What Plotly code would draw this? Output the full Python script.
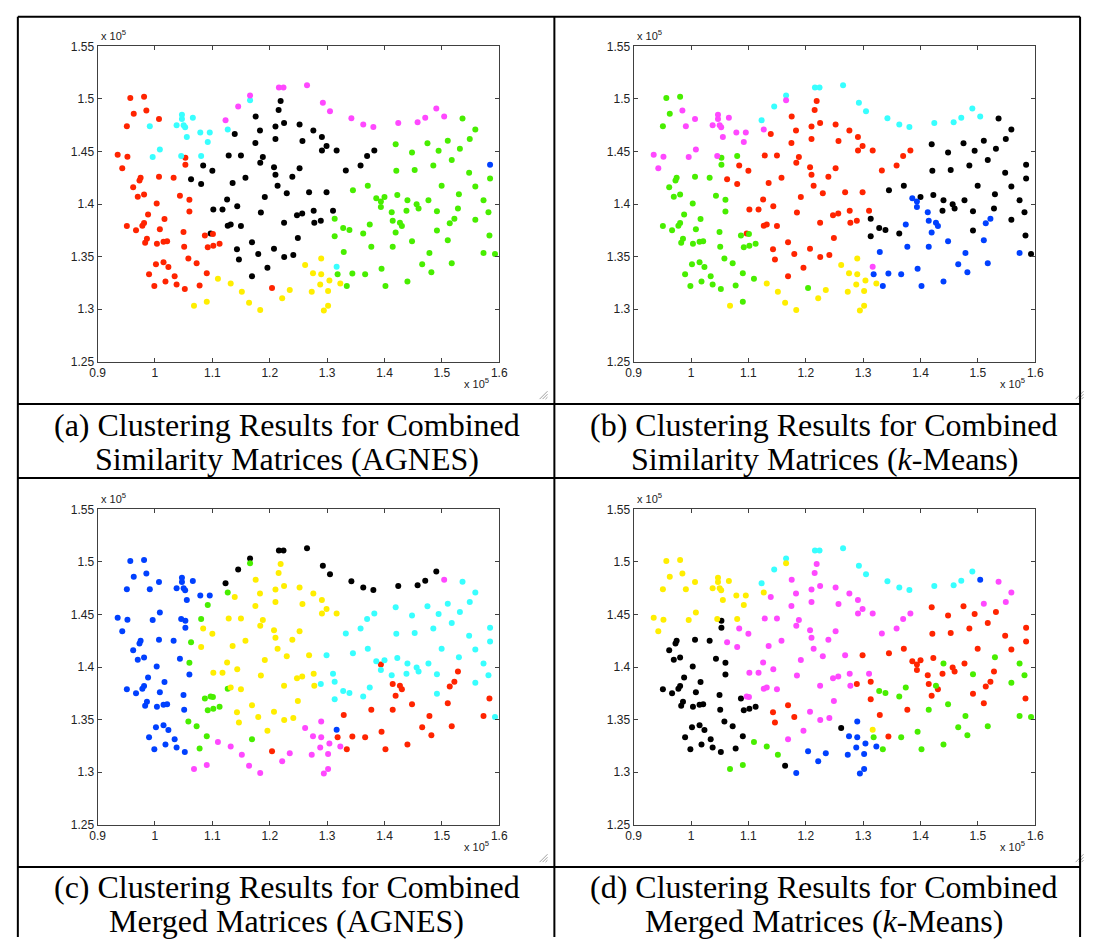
import plotly.graph_objects as go

W, H = 1094, 944

# ---- data: point coordinates (shared by all four panels) ----
x_vals = [0.957, 0.981, 0.985, 0.963, 1.007, 0.951, 0.935, 0.952, 0.943, 1.053,
          1.053, 0.975, 0.973, 1.007, 1.0325, 0.962, 0.970, 0.981, 1.0435, 1.060,
          1.003, 1.060, 0.988, 1.0166, 0.981, 0.978, 0.951, 0.967, 1.0085, 1.0497,
          0.986, 1.087, 1.101, 0.9829, 1.0034, 1.0149, 1.0212, 1.0509, 1.092, 1.1017,
          1.1126, 1.0582, 1.0726, 1.0017, 1.0149, 1.0234, 0.9897, 1.0183, 1.0343, 1.0903,
          0.9989, 1.0377, 1.052, 1.0778, 1.204, 1.047, 1.047, 1.066, 1.0377, 1.050,
          1.0526, 0.991, 1.0555, 1.079, 1.0955, 1.092, 1.1268, 1.1657, 1.0085, 0.996,
          1.0457, 1.0805, 1.3166, 1.216, 1.224, 1.265, 1.1657, 1.145, 1.123, 1.2926,
          1.305, 1.3423, 1.363, 1.3806, 1.424, 1.4577, 1.471, 1.4903, 1.504, 1.219,
          1.2155, 1.1755, 1.210, 1.225, 1.252, 1.276, 1.183, 1.139, 1.175, 1.210,
          1.257, 1.291, 1.1285, 1.1498, 1.188, 1.1835, 1.2075, 1.252, 1.084, 1.100,
          1.210, 1.2394, 1.0629, 1.1577, 1.0805, 1.1353, 1.2137, 1.2297, 1.2686, 1.1914,
          1.1257, 1.1434, 1.1017, 1.1177, 1.1846, 1.2475, 1.2566, 1.2766, 1.289, 1.2777,
          1.225, 1.249, 1.1268, 1.132, 1.1498, 1.097, 1.2909, 1.299, 1.3166, 1.3823,
          1.3697, 1.3583, 1.3326, 1.299, 1.3103, 1.1429, 1.1463, 1.1691, 1.18, 1.2074,
          1.2252, 1.2411, 1.196, 1.1691, 1.536, 1.5583, 1.5486, 1.5103, 1.4749, 1.4195,
          1.5314, 1.4943, 1.448, 1.5172, 1.4206, 1.4526, 1.4851, 1.5475, 1.584, 1.584,
          1.345, 1.3709, 1.4223, 1.4996, 1.5583, 1.3857, 1.400, 1.3937, 1.3937, 1.440,
          1.4766, 1.5297, 1.5726, 1.456, 1.4594, 1.4126, 1.4383, 1.4914, 1.528, 1.5812,
          1.3132, 1.4143, 1.4269, 1.4303, 1.5218, 1.5137, 1.5583, 1.328, 1.3389, 1.3743,
          1.3629, 1.4194, 1.4914, 1.5829, 1.3132, 1.5103, 1.448, 1.377, 1.4143, 1.329,
          1.4783, 1.5726, 1.5926, 1.4657, 1.5172, 1.3949, 1.3183, 1.344, 1.3663, 1.4817,
          1.3343, 1.4017, 1.440, 1.1097, 1.132, 1.1514, 1.068, 1.0903, 1.164, 1.1834,
          1.2217, 1.2349, 1.2617, 1.2754, 1.2732, 1.2897, 1.2897, 1.304, 1.323, 1.288,
          1.3017, 1.3017, 1.2943]

y_vals = [1.501, 1.502, 1.489, 1.486, 1.481, 1.474, 1.447, 1.445, 1.434, 1.444,
          1.4375, 1.425, 1.4225, 1.426, 1.425, 1.416, 1.407, 1.409, 1.408, 1.404,
          1.4006, 1.393, 1.390, 1.3857, 1.382, 1.3794, 1.379, 1.375, 1.376, 1.3735,
          1.367, 1.370, 1.3716, 1.3632, 1.3622, 1.3641, 1.3647, 1.3594, 1.3588, 1.3603,
          1.3622, 1.3482, 1.3437, 1.3428, 1.3447, 1.340, 1.3331, 1.3262, 1.3313, 1.3341,
          1.3219, 1.3234, 1.3191, 1.3225, 1.320, 1.485, 1.481, 1.482, 1.475, 1.475,
          1.473, 1.474, 1.4638, 1.468, 1.468, 1.459, 1.471, 1.4987, 1.452, 1.4447,
          1.4457, 1.4457, 1.3403, 1.511, 1.511, 1.513, 1.5034, 1.4928, 1.4797, 1.4963,
          1.4884, 1.4816, 1.4757, 1.4734, 1.4772, 1.4778, 1.4822, 1.491, 1.4832, 1.498,
          1.4894, 1.4832, 1.4738, 1.4772, 1.4757, 1.470, 1.470, 1.4666, 1.458, 1.462,
          1.460, 1.451, 1.4462, 1.4462, 1.4447, 1.4394, 1.435, 1.434, 1.4366, 1.4316,
          1.4278, 1.426, 1.4237, 1.425, 1.419, 1.420, 1.4175, 1.4103, 1.4112, 1.4068,
          1.4044, 1.398, 1.3947, 1.3947, 1.3919, 1.3894, 1.391, 1.3937, 1.384, 1.3822,
          1.3822, 1.3677, 1.3794, 1.3806, 1.379, 1.372, 1.4638, 1.4553, 1.451, 1.451,
          1.4457, 1.4366, 1.4319, 1.4112, 1.3937, 1.3569, 1.3472, 1.3637, 1.3525, 1.3575,
          1.3497, 1.3516, 1.3394, 1.3313, 1.4813, 1.471, 1.462, 1.4603, 1.4578, 1.4569,
          1.4525, 1.4506, 1.449, 1.4419, 1.4316, 1.4325, 1.4366, 1.4297, 1.4244, 1.4375,
          1.4131, 1.4175, 1.4087, 1.4175, 1.4166, 1.4056, 1.4066, 1.4025, 1.3972, 1.4035,
          1.4035, 1.4094, 1.4035, 1.3997, 1.3957, 1.3922, 1.3937, 1.3931, 1.3957, 1.3922,
          1.386, 1.384, 1.3822, 1.379, 1.386, 1.3816, 1.385, 1.3772, 1.3753, 1.3806,
          1.3719, 1.3728, 1.3747, 1.370, 1.3694, 1.3656, 1.3647, 1.3594, 1.3594, 1.3544,
          1.3534, 1.3534, 1.3525, 1.3428, 1.3437, 1.3384, 1.3331, 1.334, 1.3331, 1.335,
          1.3219, 1.3219, 1.3263, 1.3288, 1.3244, 1.3166, 1.3031, 1.3069, 1.306, 1.2991,
          1.3103, 1.3181, 1.3419, 1.3341, 1.3166, 1.3482, 1.3331, 1.3272, 1.3244, 1.3234,
          1.3172, 1.3031, 1.2988]

# ---- cluster labels per panel (R red, G green, B blue, C cyan, M magenta, Y yellow, K black) ----
labels_a = ("R " * 55 + "C " * 18 + "M " * 16 + "K " * 65 + "G " * 15 + "B "
            + "G " * 53 + "Y " * 20).split()

labels_b = ("G G M G M G M M M " + "G " * 46 + "M " * 16 + "G M " + "C " * 16 + "R " * 65
            + "K " * 21 + "B K B B K K K K K K B K K K K K B B B B B K K K B K B K K K "
            + "B B B B B B B K B B B B B B B B B B "
            + "G Y Y Y G " + "Y " * 15).split()

labels_c = ("B " * 19 + "G " + "B " * 11 + "G G " + "B " * 5 + "G " * 5 + "B " * 6 + "G B B B G R "
            + "B " * 10 + "G G G B B B G B " + "K " * 15 + "M "
            + "Y " * 23 + "G " + "Y " * 15 + "C Y Y Y G Y Y G "
            + "Y Y Y C C C C C C " + "Y " * 8 + "G "
            + "C " * 23 + "R C " + "C " * 9 + "R C C R R R R R C C C C C R C R C "
            + "R R R R R R R C R R R R R R R R R R "
            + "M " * 20).split()

labels_d = ("Y " * 9 + "K " * 23 + "M " + "K " * 21 + "B " + "Y " * 18 + "C " * 15 + "B "
            + "M " * 39 + "R M M M M " + "M M M M M M M M M M R M R R R R " + "M " * 9
            + "R " * 21 + "G R G G R R R R G R G R R G R R R G G G G G R R R R R G R G R "
            + "G G G G G G G R G G G G G G G G G G "
            + "K B B B K " + "B " * 15).split()

x_tick_vals = [0.9, 1.0, 1.1, 1.2, 1.3, 1.4, 1.5, 1.6]
x_tick_text = ["0.9", "1", "1.1", "1.2", "1.3", "1.4", "1.5", "1.6"]
y_tick_vals = [1.25, 1.30, 1.35, 1.40, 1.45, 1.50, 1.55]
y_tick_text = ["1.25", "1.3", "1.35", "1.4", "1.45", "1.5", "1.55"]

captions = [
    ("(a) Clustering Results for Combined", "Similarity Matrices (AGNES)"),
    ("(b) Clustering Results for Combined", "Similarity Matrices (<i>k</i>-Means)"),
    ("(c) Clustering Results for Combined", "Merged Matrices (AGNES)"),
    ("(d) Clustering Results for Combined", "Merged Matrices (<i>k</i>-Means)"),
]

color_map = {"R": "#ff2400", "G": "#48ee00", "B": "#0040ff", "C": "#38ffff",
             "M": "#ff48ff", "Y": "#ffee00", "K": "#000000"}
color_order = ["K", "R", "G", "B", "C", "M", "Y"]

# ---- layout geometry (pixels) ----
panel_boxes = [(91, 40, 499, 360), (635.5, 40, 1043.5, 360),
               (91, 510, 499, 830), (635.5, 510, 1043.5, 830)]
caption_centers = [(283, 424, 459), (829, 424, 459), (283, 893, 928), (829, 893, 928)]


def px(xp):
    return xp / W


def py(yp):
    return 1 - yp / H


fig = go.Figure()
all_labels = [labels_a, labels_b, labels_c, labels_d]

for i, labels in enumerate(all_labels):
    sfx = "" if i == 0 else str(i + 1)
    for c in color_order:
        xs = [x for x, l in zip(x_vals, labels) if l == c]
        ys = [y for y, l in zip(y_vals, labels) if l == c]
        if not xs:
            continue
        fig.add_trace(go.Scatter(x=xs, y=ys, mode="markers", xaxis="x" + sfx, yaxis="y" + sfx,
                                 marker=dict(color=color_map[c], size=6, line=dict(width=0)),
                                 showlegend=False, hoverinfo="skip"))

layout = dict(width=W, height=H, margin=dict(l=0, r=0, t=0, b=0),
              paper_bgcolor="white", plot_bgcolor="white", showlegend=False)
axis_common = dict(showline=True, linecolor="#404040", linewidth=1, mirror="ticks",
                   ticks="inside", ticklen=4, tickcolor="#404040", showgrid=False,
                   zeroline=False, tickfont=dict(family="Liberation Sans", size=12, color="#222"))
shapes = []
annotations = []
for i, (l, t, r, b) in enumerate(panel_boxes):
    sfx = "" if i == 0 else str(i + 1)
    layout["xaxis" + sfx] = dict(axis_common, domain=[px(l), px(r)], range=[0.9, 1.6],
                                 tickvals=x_tick_vals, ticktext=x_tick_text, anchor="y" + sfx)
    layout["yaxis" + sfx] = dict(axis_common, domain=[py(b), py(t)], range=[1.25, 1.55],
                                 tickvals=y_tick_vals, ticktext=y_tick_text, anchor="x" + sfx)
    annotations.append(dict(x=px(l + 1), y=py(t - 2), xref="paper", yref="paper",
                            text="x 10<sup>5</sup>", showarrow=False, xanchor="left",
                            yanchor="bottom", font=dict(family="Liberation Sans", size=11, color="#222")))
    annotations.append(dict(x=px(r - 8), y=py(b + 22), xref="paper", yref="paper",
                            text="x 10<sup>5</sup>", showarrow=False, xanchor="right",
                            yanchor="middle", font=dict(family="Liberation Sans", size=11, color="#222")))
    # resize grip
    gx, gy = r + 49, b + 38
    for k in range(3):
        d = 3 * k
        shapes.append(dict(type="line", xref="paper", yref="paper",
                           x0=px(gx - 8 + d), y0=py(gy), x1=px(gx), y1=py(gy - 8 + d),
                           line=dict(color="#a0a0a0", width=1)))

for (cx, y1, y2), (line1, line2) in zip(caption_centers, captions):
    for yy, txt in ((y1, line1), (y2, line2)):
        annotations.append(dict(x=px(cx), y=py(yy), xref="paper", yref="paper", text=txt,
                                showarrow=False, xanchor="center", yanchor="middle",
                                font=dict(family="Liberation Serif", size=32, color="black")))

# table frame lines
for xl in (10, 555, 1089):
    shapes.append(dict(type="line", xref="paper", yref="paper", x0=px(xl), x1=px(xl),
                       y0=py(10), y1=py(944), line=dict(color="black", width=2)))
for yl in (10, 403, 478, 873):
    shapes.append(dict(type="line", xref="paper", yref="paper", x0=px(10), x1=px(1089),
                       y0=py(yl), y1=py(yl), line=dict(color="black", width=2)))

layout["shapes"] = shapes
layout["annotations"] = annotations
fig.update_layout(**layout)

fig.write_html("out.html", config={"displayModeBar": False},
               post_script="document.body.style.margin='0';")
